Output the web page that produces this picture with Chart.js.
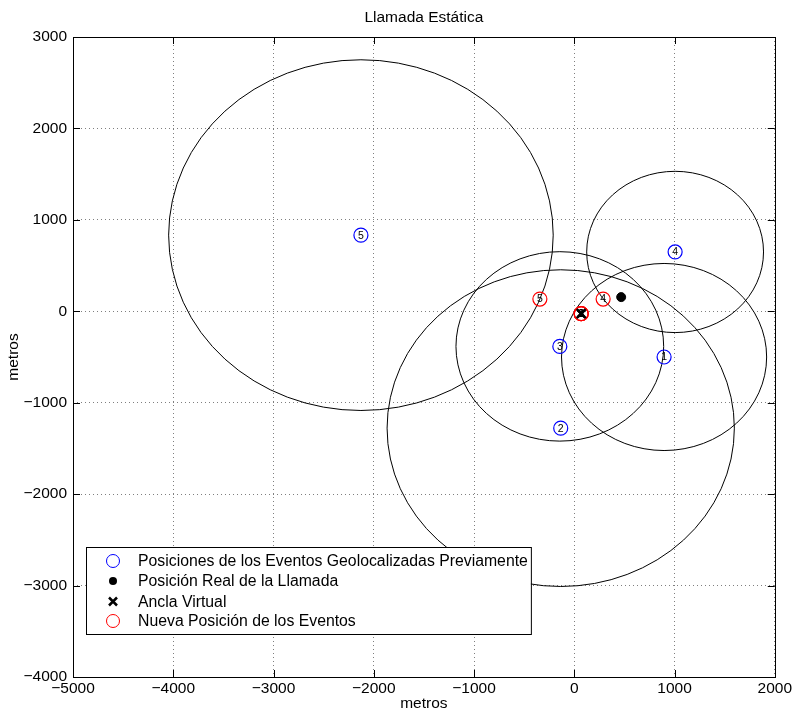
<!DOCTYPE html>
<html>
<head>
<meta charset="utf-8">
<script src="https://cdn.jsdelivr.net/npm/chart.js@4.4.1/dist/chart.umd.min.js"></script>
<style>
  html, body { margin: 0; padding: 0; background: #ffffff; }
  #wrap { width: 794px; height: 713px; }
</style>
</head>
<body>
<div id="wrap"><canvas id="c" width="794" height="713"></canvas></div>
<script>
// ---- data ----
const eventIds   = ['1', '2', '3', '4', '5'];
const prevX      = [896, -135, -144, 1006, -2128];   // previously geolocated events (m)
const prevY      = [-500, -1278, -384, 649, 833];
const radiusM    = [1023, 1732, 1036, 882, 1918];    // uncertainty radius of each event (m)
const callX      = [468];                            // real call position
const callY      = [155];
const anchorX    = [69];                             // virtual anchor
const anchorY    = [-26];
const newX       = [69, 69, 69, 288, -343];          // new event positions
const newY       = [-26, -26, -26, 134, 134];
const xTickVals  = [-5000, -4000, -3000, -2000, -1000, 0, 1000, 2000];
const yTickVals  = [-4000, -3000, -2000, -1000, 0, 1000, 2000, 3000];
const legendLabels = [
  'Posiciones de los Eventos Geolocalizadas Previamente',
  'Posición Real de la Llamada',
  'Ancla Virtual',
  'Nueva Posición de los Eventos'
];
const titleText = 'Llamada Estática';
const axisTitle = 'metros';

const FONT = '"Liberation Sans", Arial, Helvetica, sans-serif';
const FS = 15.5;
const toPts = (xs, ys) => xs.map((x, i) => ({ x: x, y: ys[i] }));
const fmt = v => String(v).replace('-', '\u2212');

// center title over the plotting area
const titleAlignPlugin = {
  id: 'titleAlign',
  afterLayout(chart) {
    const tb = chart.titleBlock;
    if (tb) { tb.left = chart.chartArea.left; tb.right = chart.chartArea.right; }
  }
};

// circles around the previous positions
const circlesPlugin = {
  id: 'circles',
  beforeDatasetsDraw(chart) {
    const { ctx, chartArea: a, scales: { x, y } } = chart;
    ctx.save();
    ctx.beginPath(); ctx.rect(a.left, a.top, a.right - a.left, a.bottom - a.top); ctx.clip();
    ctx.strokeStyle = '#000'; ctx.lineWidth = 1;
    prevX.forEach((cxv, i) => {
      const cx = x.getPixelForValue(cxv), cy = y.getPixelForValue(prevY[i]);
      const rx = x.getPixelForValue(cxv + radiusM[i]) - cx;
      const ry = cy - y.getPixelForValue(prevY[i] + radiusM[i]);
      ctx.beginPath(); ctx.ellipse(cx, cy, rx, ry, 0, 0, Math.PI * 2); ctx.stroke();
    });
    ctx.restore();
  }
};

// number labels inside the circle markers
const labelsPlugin = {
  id: 'numlabels',
  afterDatasetsDraw(chart) {
    const ctx = chart.ctx;
    ctx.save();
    ctx.font = '10.5px ' + FONT; ctx.fillStyle = '#000';
    ctx.textAlign = 'center'; ctx.textBaseline = 'middle';
    [0, 2].forEach(dsIdx => {
      const meta = chart.getDatasetMeta(dsIdx);
      meta.data.forEach((pt, i) => ctx.fillText(eventIds[i], pt.x, pt.y + 0.5));
    });
    // redraw the anchor cross on top
    const am = chart.getDatasetMeta(3);
    am.data.forEach(pt => {
      ctx.strokeStyle = '#000'; ctx.lineWidth = 2.5;
      const s = 4.5;
      ctx.beginPath();
      ctx.moveTo(pt.x - s, pt.y - s); ctx.lineTo(pt.x + s, pt.y + s);
      ctx.moveTo(pt.x + s, pt.y - s); ctx.lineTo(pt.x - s, pt.y + s);
      ctx.stroke();
    });
    ctx.restore();
  }
};

// box, inside ticks and legend
const framePlugin = {
  id: 'frame',
  afterDraw(chart) {
    const { ctx, chartArea: a, scales: { x, y } } = chart;
    ctx.save();
    ctx.strokeStyle = '#000'; ctx.lineWidth = 1;
    const TL = 7;
    ctx.beginPath();
    xTickVals.forEach(v => {
      const px = Math.round(x.getPixelForValue(v)) + 0.5;
      ctx.moveTo(px, a.bottom); ctx.lineTo(px, a.bottom - TL);
      ctx.moveTo(px, a.top); ctx.lineTo(px, a.top + TL);
    });
    yTickVals.forEach(v => {
      const py = Math.round(y.getPixelForValue(v)) + 0.5;
      ctx.moveTo(a.left, py); ctx.lineTo(a.left + TL, py);
      ctx.moveTo(a.right, py); ctx.lineTo(a.right - TL, py);
    });
    ctx.stroke();
    ctx.strokeRect(Math.round(a.left) + 0.5, Math.round(a.top) + 0.5,
                   Math.round(a.right - a.left), Math.round(a.bottom - a.top));

    // legend
    ctx.font = '15.8px ' + FONT;
    const tw = Math.max(...legendLabels.map(t => ctx.measureText(t).width));
    const bx = 86, by = 547, textX = 138;
    const bw = textX + tw + 3 - bx, bh = 87;
    ctx.fillStyle = '#fff';
    ctx.fillRect(bx, by, bw, bh);
    ctx.strokeRect(bx + 0.5, by + 0.5, bw, bh);
    const rows = [561, 581, 601.5, 621];
    const mx = 113;
    ctx.textAlign = 'left'; ctx.textBaseline = 'middle'; ctx.fillStyle = '#000';
    legendLabels.forEach((t, i) => ctx.fillText(t, textX, rows[i] + 1));
    // markers
    ctx.lineWidth = 1;
    ctx.strokeStyle = '#0000ff';
    ctx.beginPath(); ctx.arc(mx, rows[0], 6.5, 0, Math.PI * 2); ctx.stroke();
    ctx.fillStyle = '#000';
    ctx.beginPath(); ctx.arc(mx, rows[1], 4, 0, Math.PI * 2); ctx.fill();
    ctx.strokeStyle = '#000'; ctx.lineWidth = 2.5;
    ctx.beginPath();
    ctx.moveTo(mx - 4, rows[2] - 4); ctx.lineTo(mx + 4, rows[2] + 4);
    ctx.moveTo(mx + 4, rows[2] - 4); ctx.lineTo(mx - 4, rows[2] + 4);
    ctx.stroke();
    ctx.lineWidth = 1; ctx.strokeStyle = '#ff0000';
    ctx.beginPath(); ctx.arc(mx, rows[3], 6.5, 0, Math.PI * 2); ctx.stroke();
    ctx.restore();
  }
};

new Chart(document.getElementById('c'), {
  type: 'scatter',
  data: {
    datasets: [
      { label: legendLabels[0], data: toPts(prevX, prevY), pointStyle: 'circle', pointRadius: 7,
        borderColor: '#0000ff', backgroundColor: 'rgba(0,0,0,0)', borderWidth: 1.2, order: 3 },
      { label: legendLabels[1], data: toPts(callX, callY), pointStyle: 'circle', pointRadius: 4.5,
        borderColor: '#000', backgroundColor: '#000', borderWidth: 1, order: 1 },
      { label: legendLabels[3], data: toPts(newX, newY), pointStyle: 'circle', pointRadius: 7,
        borderColor: '#ff0000', backgroundColor: 'rgba(0,0,0,0)', borderWidth: 1.2, order: 2 },
      { label: legendLabels[2], data: toPts(anchorX, anchorY), pointStyle: 'crossRot', pointRadius: 5,
        borderColor: '#000', backgroundColor: '#000', borderWidth: 2.5, order: 0 }
    ]
  },
  options: {
    responsive: false,
    animation: false,
    devicePixelRatio: 1,
    layout: { padding: { left: 0, right: 19, top: 0, bottom: 0 } },
    plugins: {
      legend: { display: false },
      tooltip: { enabled: false },
      title: {
        display: true, text: titleText, color: '#000',
        font: { family: FONT, size: FS, weight: 'normal' },
        padding: { top: 8, bottom: 10.4 }
      }
    },
    scales: {
      x: {
        type: 'linear', min: -5000, max: 2000,
        afterBuildTicks: s => { s.ticks = xTickVals.map(v => ({ value: v })); },
        afterFit: s => { s.height = 36; },
        ticks: { callback: fmt, color: '#000', font: { family: FONT, size: FS }, padding: 2, maxRotation: 0 },
        grid: { color: 'rgba(0,0,0,0.5)', drawTicks: false, lineWidth: 1 },
        border: { display: false, dash: [1, 3] },
        title: { display: true, text: axisTitle, color: '#000', font: { family: FONT, size: FS }, padding: { top: 0, bottom: 0 } }
      },
      y: {
        type: 'linear', min: -4000, max: 3000,
        afterBuildTicks: s => { s.ticks = yTickVals.map(v => ({ value: v })); },
        afterFit: s => { s.width = 73; },
        ticks: { callback: fmt, color: '#000', font: { family: FONT, size: FS }, padding: 6 },
        grid: { color: 'rgba(0,0,0,0.5)', drawTicks: false, lineWidth: 1 },
        border: { display: false, dash: [1, 3] },
        title: { display: true, text: axisTitle, color: '#000', font: { family: FONT, size: FS }, padding: { top: 4, bottom: 0 } }
      }
    }
  },
  plugins: [titleAlignPlugin, circlesPlugin, labelsPlugin, framePlugin]
});
</script>
</body>
</html>
